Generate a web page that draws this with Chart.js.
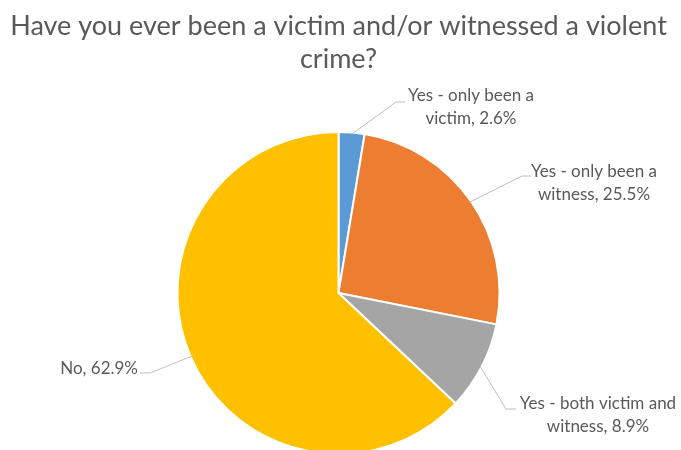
<!DOCTYPE html>
<html>
<head>
<meta charset="utf-8">
<script src="https://cdn.jsdelivr.net/npm/chart.js@4"></script>
<style>
  html, body { margin: 0; padding: 0; background: #fff; overflow: hidden; }
  #wrap { width: 681px; height: 480px; }
</style>
</head>
<body>
<div id="wrap"><canvas id="pie" width="681" height="480"></canvas></div>
<script>
const titleLines = ['Have you ever been a victim and/or witnessed a violent', 'crime?'];
const categories = ['Yes - only been a victim', 'Yes - only been a witness', 'Yes - both victim and witness', 'No'];
const shares = [2.6, 25.5, 8.9, 62.9];
const labelLines = [
    ['Yes - only been a', 'victim, 2.6%'],
    ['Yes - only been a', 'witness, 25.5%'],
    ['Yes - both victim and', 'witness, 8.9%'],
    ['No, 62.9%']
];
const sliceColors = ['#5B9BD5', '#ED7D31', '#A5A5A5', '#FFC000'];

// where each callout sits: text anchor, elbow of the leader line, text alignment
const callouts = [
    { x: 471, y: 96, elbow: [396, 102], end: [405, 102], align: 'center' },
    { x: 594, y: 172, elbow: [522, 176], end: [531, 176], align: 'center' },
    { x: 598, y: 404, elbow: [506, 409], end: [516, 409], align: 'center' },
    { x: 138, y: 369, elbow: [150, 373], end: [140, 373], align: 'right' }
];

const calloutPlugin = {
    id: 'callouts',
    afterDatasetsDraw(chart) {
        const ctx = chart.ctx;
        const arcs = chart.getDatasetMeta(0).data;
        ctx.save();
        arcs.forEach((arc, i) => {
            const c = callouts[i];
            const p = arc.getProps(['x', 'y', 'startAngle', 'endAngle', 'outerRadius'], true);
            const mid = (p.startAngle + p.endAngle) / 2;
            const sx = p.x + Math.cos(mid) * (p.outerRadius - 2);
            const sy = p.y + Math.sin(mid) * (p.outerRadius - 2);

            ctx.strokeStyle = '#BFBFBF';
            ctx.lineWidth = 1;
            ctx.beginPath();
            ctx.moveTo(sx, sy);
            ctx.lineTo(c.elbow[0], c.elbow[1]);
            ctx.lineTo(c.end[0], c.end[1]);
            ctx.stroke();

            ctx.fillStyle = '#595959';
            ctx.font = '17px Lato';
            ctx.textAlign = c.align;
            ctx.textBaseline = 'middle';
            labelLines[i].forEach((line, j) => {
                ctx.fillText(line, c.x, c.y + j * 23);
            });
        });
        ctx.restore();
    }
};

new Chart(document.getElementById('pie'), {
    type: 'pie',
    data: {
        labels: categories,
        datasets: [{
            data: shares,
            backgroundColor: sliceColors,
            borderColor: '#ffffff',
            borderWidth: 2
        }]
    },
    options: {
        responsive: false,
        animation: false,
        layout: { padding: { top: 0, left: 0, right: 4, bottom: 25 } },
        plugins: {
            legend: { display: false },
            tooltip: { enabled: false },
            title: {
                display: true,
                text: titleLines,
                color: '#595959',
                font: { family: 'Lato', size: 27, weight: 'normal', lineHeight: 1.22 },
                padding: { top: 10, bottom: 55 }
            }
        }
    },
    plugins: [calloutPlugin]
});
</script>
</body>
</html>
